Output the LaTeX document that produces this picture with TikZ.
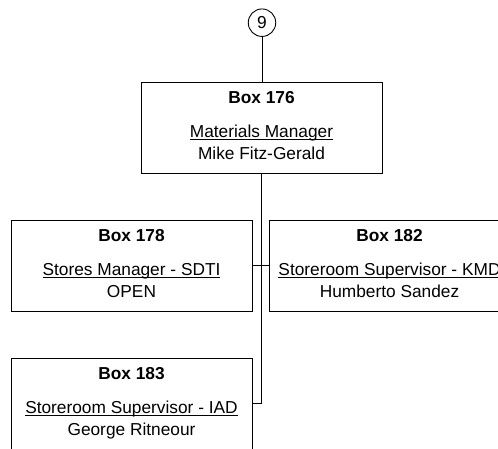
\documentclass[tikz,border=0pt]{standalone}
\usepackage{fontspec}
\setmainfont{Liberation Sans}
\newcommand\ulin[1]{\setbox0\hbox{#1}\rlap{\rule[-2.6pt]{\wd0}{0.9pt}}\box0}
\tikzset{
  orgbox/.style={draw=black, line width=0.9pt, minimum width=241pt, minimum height=91pt, inner sep=0pt},
  txt/.style={font=\fontsize{17.3}{20}\selectfont, inner sep=0pt, anchor=base},
  ttl/.style={txt, font=\fontsize{17.3}{20}\selectfont\bfseries},
  link/.style={draw=black, line width=0.9pt},
  ring/.style={circle, draw=black, line width=0.9pt, minimum size=27.5pt, inner sep=0pt, font=\fontsize{17.3}{20}\selectfont}
}
\begin{document}
\begin{tikzpicture}[x=1pt,y=-1pt]
\useasboundingbox (0,0) rectangle (498,449);
\clip (0,0) rectangle (498,449);
\node[ring] (c9) at (262,22.7) {9};
\node[orgbox] (b176) at (261.5,127.5) {};
\node[orgbox] (b178) at (131.5,265.5) {};
\node[orgbox] (b182) at (389.5,265.5) {};
\node[orgbox] (b183) at (131.5,403.5) {};
% texts
\node[ttl] (t176) at ([yshift=-21.7pt]b176.north) {Box 176};
\node[txt] (r176) at ([yshift=-55.7pt]b176.north) {\ulin{Materials Manager}};
\node[txt] (n176) at ([yshift=-78.3pt]b176.north) {Mike Fitz-Gerald};
\node[ttl] (t178) at ([yshift=-21.7pt]b178.north) {Box 178};
\node[txt] (r178) at ([yshift=-55.7pt]b178.north) {\ulin{Stores Manager - SDTI}};
\node[txt] (n178) at ([yshift=-78.3pt]b178.north) {OPEN};
\node[ttl] (t182) at ([yshift=-21.7pt]b182.north) {Box 182};
\node[txt] (r182) at ([yshift=-55.7pt]b182.north) {\ulin{Storeroom Supervisor - KMD}};
\node[txt] (n182) at ([yshift=-78.3pt]b182.north) {Humberto Sandez};
\node[ttl] (t183) at ([yshift=-21.7pt]b183.north) {Box 183};
\node[txt] (r183) at ([yshift=-55.7pt]b183.north) {\ulin{Storeroom Supervisor - IAD}};
\node[txt] (n183) at ([yshift=-78.3pt]b183.north) {George Ritneour};
% connectors
\draw[link] (c9.south) -- (c9.south |- b176.north);
\draw[link] (b176.south) -- (b176.south |- b183.east) -- (b183.east);
\draw[link] (b178.east) -- (b182.west);
\end{tikzpicture}
\end{document}
